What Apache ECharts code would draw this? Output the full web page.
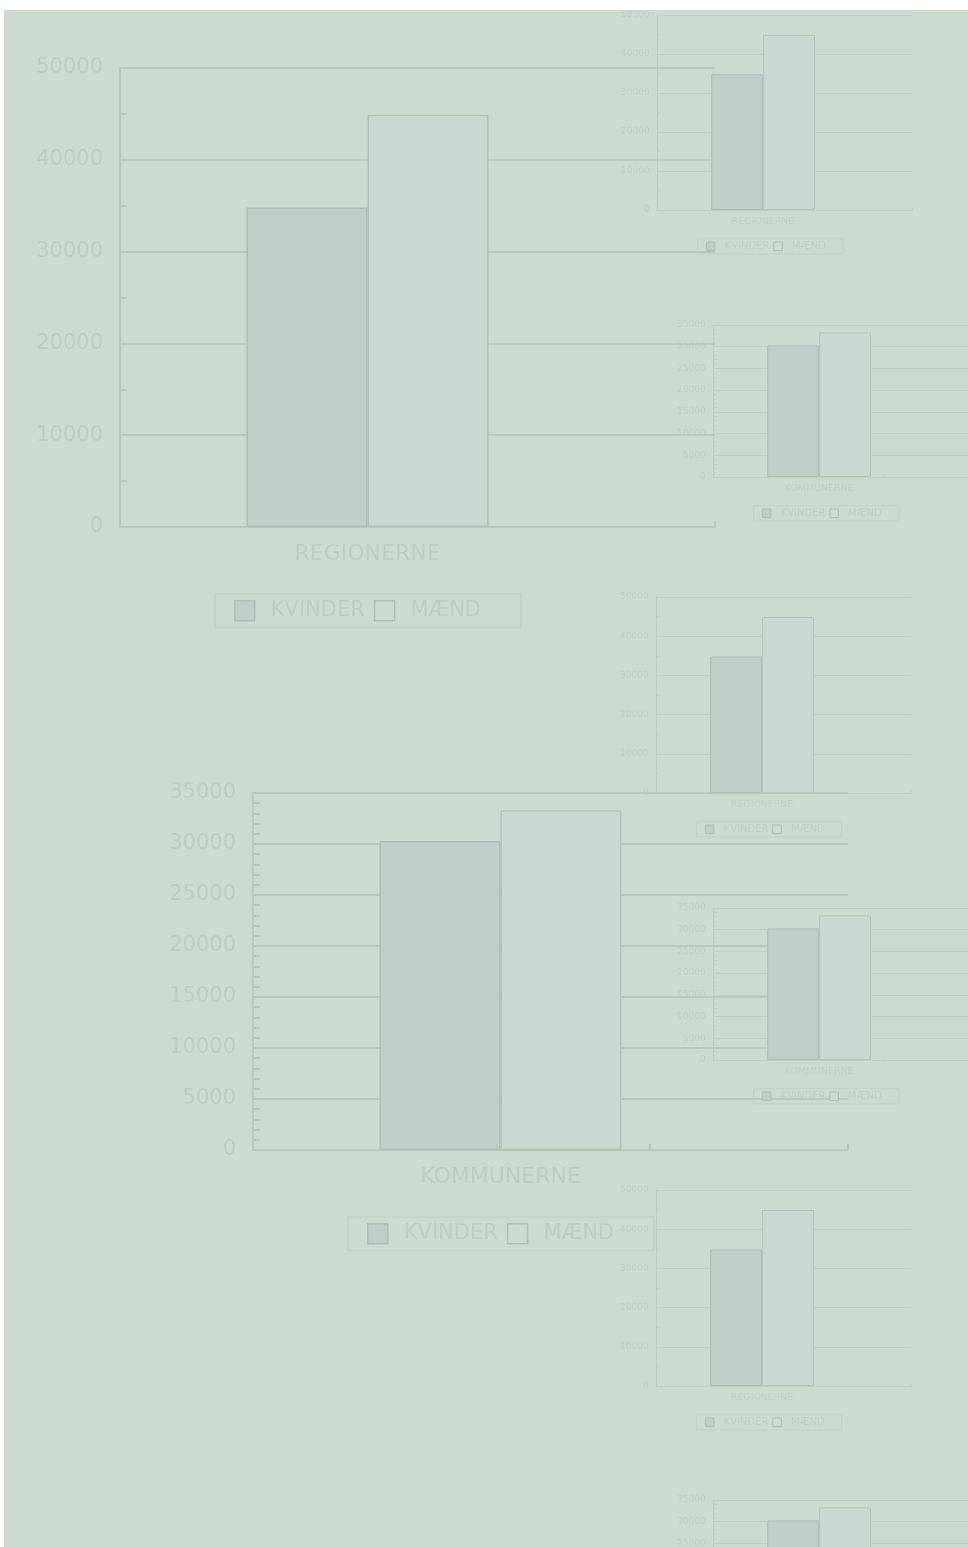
<!DOCTYPE html>
<html lang="da">
<head>
<meta charset="UTF-8">
<title>Regionerne og kommunerne</title>
<script src="https://cdn.jsdelivr.net/npm/echarts@6.0.0/dist/echarts.min.js"></script>
<style>
  html, body { margin: 0; padding: 0; background: #fff; overflow: hidden; }
  #paper { position: absolute; left: 4px; top: 10px; width: 964px; height: 1537px; background: #cddad4; }
  #main { position: absolute; left: 0; top: 0; width: 968px; height: 1547px; }
</style>
</head>
<body>
<div id="paper"></div>
<div id="main"></div>
<script>
// values
const seriesNames = ['KVINDER', 'MÆND'];

const regionCategory = 'REGIONERNE';
const regionValues = [34800, 44900];
const regionTicks = [0, 10000, 20000, 30000, 40000, 50000];

const kommuneCategory = 'KOMMUNERNE';
const kommuneValues = [30300, 33300];
const kommuneTicks = [0, 5000, 10000, 15000, 20000, 25000, 30000, 35000];

const kinds = {
  region:  { category: regionCategory,  values: regionValues,  ticks: regionTicks,  minorSplit: 2, edgeTicks: [3] },
  kommune: { category: kommuneCategory, values: kommuneValues, ticks: kommuneTicks, minorSplit: 5, edgeTicks: [2, 3] }
};

// two big charts, and the small copies down the right hand side
const panels = [
  { kind: 'region',  left: 120, top: 68,   width: 595, height: 459, scale: 1 },
  { kind: 'kommune', left: 253, top: 793,  width: 595, height: 357, scale: 1 },
  { kind: 'region',  left: 657, top: 15,   width: 255, height: 195, scale: 0.4286 },
  { kind: 'kommune', left: 713, top: 325,  width: 255, height: 152, scale: 0.4286 },
  { kind: 'region',  left: 656, top: 597,  width: 255, height: 196, scale: 0.4286 },
  { kind: 'kommune', left: 713, top: 908,  width: 255, height: 152, scale: 0.4286 },
  { kind: 'region',  left: 656, top: 1190, width: 255, height: 196, scale: 0.4286 },
  { kind: 'kommune', left: 713, top: 1500, width: 255, height: 152, scale: 0.4286 }
];

const font = 'DejaVu Sans';
const barStyles = [
  { color: '#c1cdc8', borderColor: '#b0bdb7' },
  { color: '#cad8d3', borderColor: '#b5c2bc' }
];

const option = {
  animation: false,
  grid: [], xAxis: [], yAxis: [], series: [], legend: []
};

panels.forEach((p) => {
  const k = kinds[p.kind];
  const s = p.scale;
  const big = s === 1;
  const lineColor = big ? '#bac7c1' : '#c1cec8';
  const textColor = big ? '#bfccc6' : '#c1cec8';
  const lw = big ? 2 : 1;
  const axisZ = big ? 1 : 0;
  const barZ = big ? 2 : 3;
  const lo = k.ticks[0], hi = k.ticks[k.ticks.length - 1];

  // frame grid: axes, grid lines, ticks
  const fi = option.grid.length;
  option.grid.push({ left: p.left, top: p.top, width: p.width, height: p.height, outerBoundsMode: 'none' });
  // bar grid: narrower so the pair sits left of centre
  const bi = fi + 1;
  option.grid.push({ left: p.left, top: p.top, width: 2 * 0.416 * p.width, height: p.height, outerBoundsMode: 'none' });

  option.xAxis.push({
    type: 'value', gridIndex: fi, min: 0, max: 3, z: axisZ,
    axisLine: { show: true, lineStyle: { color: lineColor, width: lw } },
    axisTick: { show: true, inside: true, length: 6 * s, customValues: k.edgeTicks, lineStyle: { color: lineColor, width: lw } },
    axisLabel: { show: false },
    splitLine: { show: false }
  });
  option.yAxis.push({
    type: 'value', gridIndex: fi, min: lo, max: hi, interval: k.ticks[1] - k.ticks[0], z: axisZ,
    axisLine: { show: true, lineStyle: { color: lineColor, width: lw } },
    axisTick: { show: false, inside: true },
    minorTick: { show: true, splitNumber: k.minorSplit, length: 7 * s, lineStyle: { color: lineColor, width: lw } },
    splitLine: { show: true, lineStyle: { color: lineColor, width: lw } },
    axisLabel: {
      margin: 17 * s, fontSize: 21 * s, color: textColor, fontFamily: font,
      formatter: (v) => (k.ticks.includes(v) ? String(v) : '')
    }
  });

  option.xAxis.push({
    type: 'category', gridIndex: bi, data: [k.category], z: axisZ,
    axisLine: { show: false }, axisTick: { show: false }, splitLine: { show: false },
    axisLabel: { margin: 16 * s, fontSize: 22 * s, color: textColor, fontFamily: font }
  });
  option.yAxis.push({ type: 'value', gridIndex: bi, min: lo, max: hi, show: false });

  seriesNames.forEach((name, i) => {
    option.series.push({
      type: 'bar', name: name, xAxisIndex: bi, yAxisIndex: bi,
      data: [k.values[i]],
      barWidth: 0.2034 * p.width, barGap: '0%',
      itemStyle: { color: barStyles[i].color, borderColor: barStyles[i].borderColor, borderWidth: big ? 1.5 : 1 },
      z: barZ, silent: true
    });
  });

  option.legend.push({
    left: p.left + 95 * s, top: p.top + p.height + 67 * s,
    padding: [6 * s, 40 * s, 6 * s, 19 * s],
    itemWidth: 20 * s, itemHeight: 20 * s, itemGap: 9 * s,
    borderColor: '#c3d0ca', borderWidth: big ? 1.5 : 1,
    icon: 'rect', selectedMode: false, z: barZ,
    textStyle: { fontSize: (big ? 21 : 10), color: textColor, fontFamily: font, padding: [0, 0, 0, 11 * s] },
    data: seriesNames.map((name, i) => ({
      name: name,
      itemStyle: {
        color: i === 0 ? barStyles[0].color : '#cddad4',
        borderColor: '#b0bcb7', borderWidth: big ? 1.5 : 1
      }
    }))
  });
});

const chart = echarts.init(document.getElementById('main'));
chart.setOption(option);
</script>
</body>
</html>
